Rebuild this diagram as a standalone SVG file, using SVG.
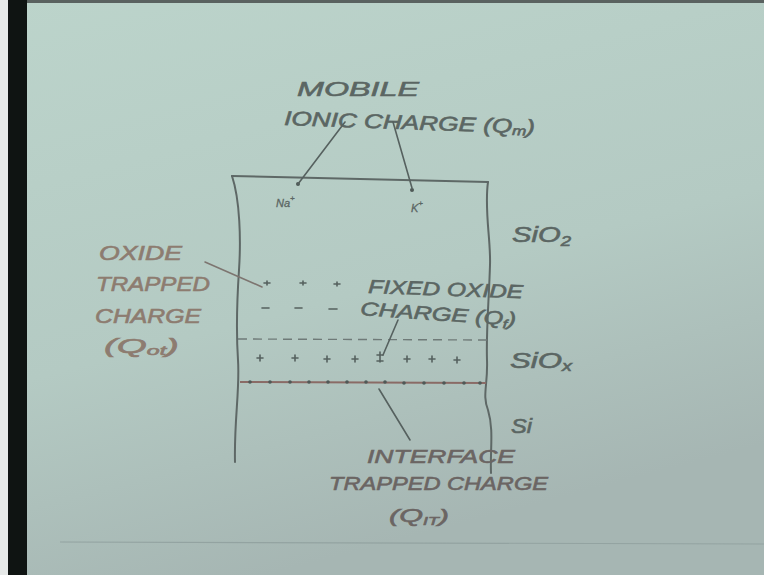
<svg xmlns="http://www.w3.org/2000/svg" width="764" height="575" viewBox="0 0 764 575">
<defs>
<linearGradient id="bg" x1="0" y1="0" x2="0.35" y2="1">
<stop offset="0" stop-color="#bcd4cb"/>
<stop offset="0.6" stop-color="#b4cac3"/>
<stop offset="1" stop-color="#a6b6b3"/>
</linearGradient>
<style>
.hw{font-family:"Liberation Sans","DejaVu Sans",sans-serif;font-style:italic;fill:#5b6663;stroke:#5b6663;stroke-width:0.6;}
.br{fill:#8d7c70;stroke:#8d7c70;}
.it{fill:#6b6563;stroke:#6b6563;}
.ln{fill:none;stroke:#56615f;stroke-width:1.6;stroke-linecap:round;}
.edge{fill:none;stroke:#5e6866;stroke-width:2;stroke-linecap:round;}
.pl{stroke:#56615f;stroke-width:1.6;stroke-linecap:round;}
.dot{fill:#4f5957;}
</style>
</defs>
<rect width="764" height="575" fill="url(#bg)"/>
<rect x="0" y="0" width="8" height="575" fill="#e6e9e8"/>
<rect x="8" y="0" width="19" height="575" fill="#0f1412"/>
<rect x="27" y="0" width="737" height="3" fill="#5a6260"/>
<line x1="60" y1="542" x2="764" y2="544" stroke="#93a3a1" stroke-width="1.2"/>

<g id="structure">
<path class="edge" d="M232,176 L488,182"/>
<path class="edge" d="M232,176 C240,200 241,240 239,270 C237,300 236,330 238,360 C240,390 234,420 235,462"/>
<path class="edge" d="M488,182 C484,210 491,240 490,265 C489,300 486,330 487,360 C488,385 482,395 488,410 C494,430 490,450 491,473"/>
<line x1="238" y1="339" x2="487" y2="340" stroke="#6f7a78" stroke-width="1.4" stroke-dasharray="9,6"/>
<line x1="240" y1="382" x2="486" y2="383" stroke="#8a6b66" stroke-width="2"/>
<g class="dot">
<circle cx="250" cy="382" r="1.8"/><circle cx="270" cy="382" r="1.8"/><circle cx="290" cy="382" r="1.8"/><circle cx="309" cy="382" r="1.8"/><circle cx="328" cy="382" r="1.8"/><circle cx="347" cy="382" r="1.8"/><circle cx="366" cy="382" r="1.8"/><circle cx="385" cy="382" r="1.8"/><circle cx="404" cy="383" r="1.8"/><circle cx="424" cy="383" r="1.8"/><circle cx="444" cy="383" r="1.8"/><circle cx="464" cy="383" r="1.8"/><circle cx="480" cy="383" r="1.8"/>
</g>
</g>

<g id="charges">
<g class="pl">
<path d="M257,358 h6 M260,355 v6"/><path d="M292,358 h6 M295,355 v6"/><path d="M324,359 h6 M327,356 v6"/><path d="M352,359 h6 M355,356 v6"/><path d="M377,355 h6 M380,352 v10 M377,361 h6"/><path d="M404,359 h6 M407,356 v6"/><path d="M429,359 h6 M432,356 v6"/><path d="M454,360 h6 M457,357 v6"/>
<path d="M264,283 h6 M267,281 v4"/><path d="M300,283 h6 M303,281 v4"/><path d="M334,284 h6 M337,282 v4"/>
<path d="M262,308 h7"/><path d="M295,308 h7"/><path d="M329,309 h8"/>
</g>
<circle class="dot" cx="298" cy="184" r="2"/>
<circle class="dot" cx="412" cy="190" r="2"/>
<text class="hw" x="276" y="207" font-size="11" style="stroke-width:0.3">Na<tspan font-size="8" dy="-6">+</tspan></text>
<text class="hw" x="411" y="212" font-size="11" style="stroke-width:0.3">K<tspan font-size="8" dy="-6">+</tspan></text>
</g>

<g id="mobile-ionic-charge">
<text class="hw" x="297" y="96" font-size="21" textLength="122" lengthAdjust="spacingAndGlyphs">MOBILE</text>
<text class="hw" x="284" y="125" font-size="20" textLength="251" lengthAdjust="spacingAndGlyphs" transform="rotate(2 284 125)">IONIC CHARGE (Q<tspan font-size="13" dy="2">m</tspan><tspan dy="-2">)</tspan></text>
</g>

<g id="sio2"><text class="hw" x="512" y="242" font-size="22" textLength="59" lengthAdjust="spacingAndGlyphs">SiO<tspan font-size="14" dy="4">2</tspan></text></g>
<g id="siox"><text class="hw" x="510" y="368" font-size="22" textLength="62" lengthAdjust="spacingAndGlyphs">SiO<tspan font-size="14" dy="3">x</tspan></text></g>
<g id="si"><text class="hw" x="511" y="433" font-size="20" textLength="21" lengthAdjust="spacingAndGlyphs">Si</text></g>

<g id="oxide-trapped-charge">
<text class="hw br" x="99" y="260" font-size="20" textLength="83" lengthAdjust="spacingAndGlyphs">OXIDE</text>
<text class="hw br" x="96" y="291" font-size="20" textLength="114" lengthAdjust="spacingAndGlyphs">TRAPPED</text>
<text class="hw br" x="95" y="323" font-size="20" textLength="106" lengthAdjust="spacingAndGlyphs">CHARGE</text>
<text class="hw br" x="104" y="353" font-size="20" textLength="75" lengthAdjust="spacingAndGlyphs">(Q<tspan font-size="12" dy="2">ot</tspan><tspan dy="-2">)</tspan></text>
</g>

<g id="fixed-oxide-charge">
<text class="hw" x="368" y="293" font-size="19" textLength="155" lengthAdjust="spacingAndGlyphs" transform="rotate(2 368 293)">FIXED OXIDE</text>
<text class="hw" x="360" y="315" font-size="19" textLength="156" lengthAdjust="spacingAndGlyphs" transform="rotate(4 360 315)">CHARGE (Q<tspan font-size="12" dy="3">f</tspan><tspan dy="-3">)</tspan></text>
</g>

<g id="interface-trapped-charge">
<text class="hw it" x="367" y="463" font-size="19" textLength="148" lengthAdjust="spacingAndGlyphs">INTERFACE</text>
<text class="hw it" x="329" y="490" font-size="19" textLength="219" lengthAdjust="spacingAndGlyphs">TRAPPED CHARGE</text>
<text class="hw it" x="389" y="522" font-size="19" textLength="60" lengthAdjust="spacingAndGlyphs">(Q<tspan font-size="11" dy="3">IT</tspan><tspan dy="-3">)</tspan></text>
</g>

<g id="connectors">
<line class="ln" x1="345" y1="122" x2="298" y2="184"/>
<line class="ln" x1="393" y1="122" x2="412" y2="188"/>
<line class="ln" x1="205" y1="262" x2="262" y2="287" style="stroke:#7d7570"/>
<line class="ln" x1="398" y1="320" x2="383" y2="355"/>
<line class="ln" x1="379" y1="389" x2="410" y2="440"/>
</g>
</svg>
